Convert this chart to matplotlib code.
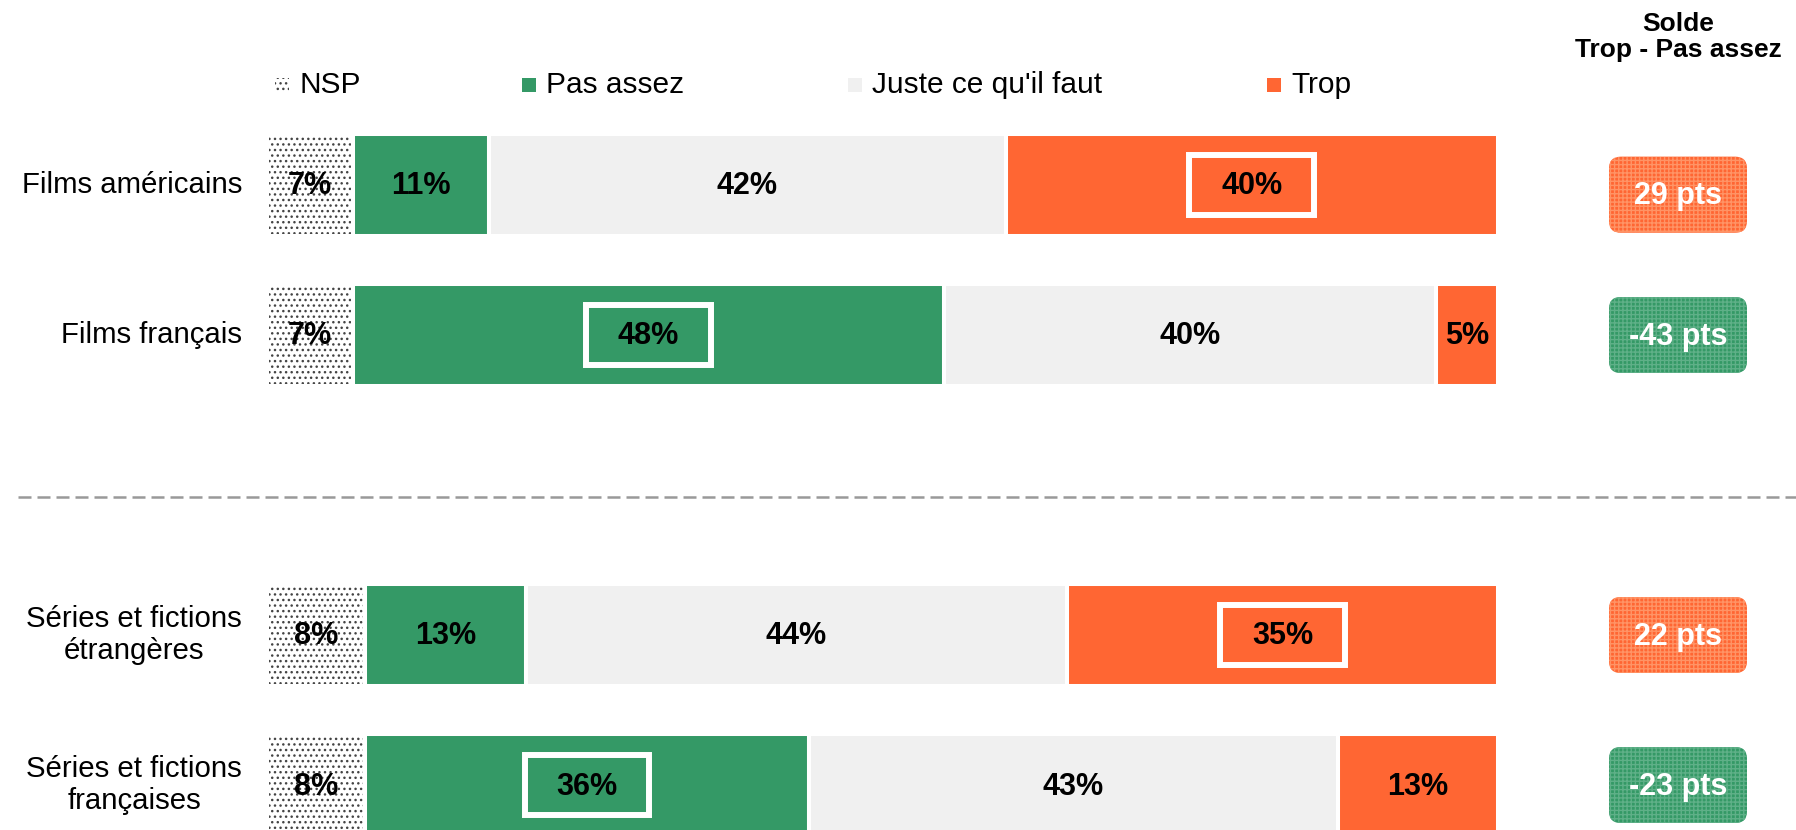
import numpy as np
import matplotlib.pyplot as plt
from matplotlib.patches import Rectangle, FancyBboxPatch
from matplotlib.transforms import Affine2D

plt.rcParams['font.family'] = ['Liberation Sans', 'DejaVu Sans']
plt.rcParams['hatch.linewidth'] = 1.0

# data
categories = ['Films américains', 'Films français',
              'Séries et fictions\nétrangères', 'Séries et fictions\nfrançaises']
rows = [0, 1, 3, 4]
nsp = [7, 7, 8, 8]
pas_assez = [11, 48, 13, 36]
juste = [42, 40, 44, 43]
trop = [40, 5, 35, 13]
solde = [29, -43, 22, -23]
cadre = ['Trop', 'Pas assez', 'Trop', 'Pas assez']   # segment encadré

legend_labels = ['NSP', 'Pas assez', "Juste ce qu'il faut", 'Trop']
GREEN = '#349966'
ORANGE = '#FF6633'
GREY = '#F0F0F0'

W, H = 1796, 830
PX = 12.31      # pixels per %
ROW = 150.0     # pixels per row unit

fig = plt.figure(figsize=(W / 100, H / 100), dpi=100)
ax = fig.add_axes([0, 0, 1, 1])
ax.set_xlim(-267 / PX, (W - 267) / PX)
ax.set_ylim((H - 185) / ROW, -185 / ROW)
ax.axis('off')

h = 0.68
gap = 2.9

# NSP : dotted bar, then white outline on top
ax.barh(rows, nsp, height=h, left=0, color='white', edgecolor='#444444',
        hatch='...', linewidth=0)
ax.barh(rows, nsp, height=h, left=0, fill=False, edgecolor='white', linewidth=gap)

left = np.array(nsp, dtype=float)
series = [('Pas assez', pas_assez, GREEN), ('Juste', juste, GREY), ('Trop', trop, ORANGE)]
for name, vals, col in series:
    ax.barh(rows, vals, height=h, left=left, color=col, edgecolor='white', linewidth=gap)
    for r, v, l, c in zip(rows, vals, left, cadre):
        ax.text(l + v / 2, r + 0.01, '{}%'.format(v), ha='center', va='center',
                fontsize=22, fontweight='bold', color='black')
        if c == name:
            ax.add_patch(Rectangle((l + v / 2 - 5.08, r - 0.2), 10.15, 0.4,
                                   fill=False, edgecolor='white', linewidth=4.3, zorder=3))
    left = left + np.array(vals)

for r, v in zip(rows, nsp):
    ax.text(v / 2, r + 0.01, '{}%'.format(v), ha='center', va='center',
            fontsize=22, fontweight='bold', color='black')

# row labels
for r, cat in zip(rows, categories):
    ax.text(-25 / PX, r, cat, ha='right', va='center', multialignment='center',
            fontsize=21.2, linespacing=1.2)

# separator
ax.plot([-249 / PX, (W - 267) / PX], [312 / ROW, 312 / ROW], color='#999999',
        linewidth=1.8, linestyle=(0, (5.2, 2.4)))

# solde column
cx = (1678 - 267) / PX
bw, bh = 138 / PX, 76 / ROW
nudge = [0.065, 0, 0, 0]
ax.text(cx, -148 / ROW, 'Solde\nTrop - Pas assez', ha='center', va='center',
        fontsize=19, fontweight='bold', linespacing=1.15)
for r, s, dy in zip(rows, solde, nudge):
    col = ORANGE if s > 0 else GREEN
    hatch_col = '#FF9466' if s > 0 else '#5FB088'
    box = FancyBboxPatch((cx - bw / 2, r + dy - bh / 2), bw, bh,
                         boxstyle='round,pad=0,rounding_size=0.95',
                         mutation_aspect=PX / ROW, facecolor=col,
                         edgecolor=hatch_col, hatch='++++', linewidth=0)
    ax.add_patch(box)
    ax.text(cx, r + dy + 0.01, '{} pts'.format(s), ha='center', va='center',
            fontsize=22, fontweight='bold', color='white')

# legend, placed by pixel
pix = Affine2D().scale(1 / W, -1 / H).translate(0, 1) + fig.transFigure
leg_x = [275, 522, 848, 1267]
leg_face = ['white', GREEN, GREY, ORANGE]
for x, lab, fc in zip(leg_x, legend_labels, leg_face):
    if lab == 'NSP':
        fig.patches.append(Rectangle((x, 78), 14, 14, transform=pix, facecolor='white',
                                     edgecolor='#444444', hatch='...', linewidth=0))
    else:
        fig.patches.append(Rectangle((x, 78), 14, 14, transform=pix, facecolor=fc,
                                     linewidth=0))
    fig.text(x + 24, 85, lab, transform=pix, ha='left', va='center', fontsize=21.5)

fig.savefig('out.png', dpi=100)
